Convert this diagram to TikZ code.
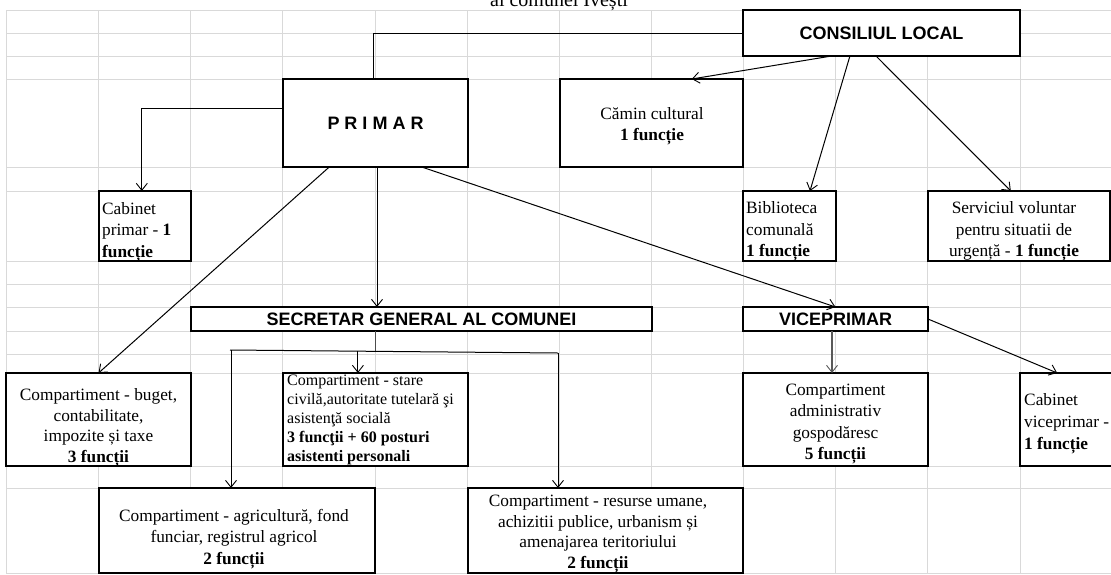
\documentclass[tikz,border=0pt]{standalone}
\usepackage{fontspec}
\setmainfont{Liberation Serif}
\newfontfamily\sansfam{Liberation Sans}
\usetikzlibrary{arrows.meta,calc}
\begin{document}
\begin{tikzpicture}[x=1pt,y=-1pt,
  gridline/.style={draw=black!15, line width=1pt},
  box/.style={draw, line width=1.9pt, fill=white, inner sep=0pt, outer sep=0pt},
  head/.style={font=\fontsize{18}{20}\selectfont\sansfam\bfseries},
  txt/.style={inner sep=0pt, font=\fontsize{17.3}{21.5}\selectfont},
  conn/.style={line width=1pt, -{Straight Barb[length=7pt,width=11pt,line width=0.9pt]}},
  plain/.style={line width=1pt},
  grayconn/.style={line width=1.6pt, draw=black!65, -{Straight Barb[length=7pt,width=11pt,line width=0.9pt]}},
]
\fill[white] (0,0) rectangle (1111,574);
\useasboundingbox (0,0) rectangle (1111,574);
% spreadsheet grid
\foreach \i in {0,...,11} \draw[gridline] ({6.4+92.15*\i},10) -- ({6.4+92.15*\i},574);
\foreach \yy in {10,33,56,79,167,191,261,284,307,331,354,373,466,488,573} \draw[gridline] (6.4,\yy) -- (1111,\yy);

% title (cut off at the top edge, as in the reference)
\node[inner sep=0pt, anchor=base, font=\fontsize{20}{24}\selectfont] (title) at (559,6.5) {al comunei Ivești};

% boxes
\node[box, head, minimum width=277pt, minimum height=46pt] (consiliul) at (881.5,33) {CONSILIUL LOCAL};
\node[box, head, minimum width=185pt, minimum height=88pt] (primar) at (375.5,123) {P R I M A R};
\node[box, minimum width=183pt, minimum height=88pt] (camin) at (651.5,123) {};
\node[box, minimum width=92.4pt, minimum height=70pt] (cabprimar) at (144.8,226) {};
\node[box, minimum width=93pt, minimum height=70pt] (biblioteca) at (789.5,226) {};
\node[box, minimum width=182pt, minimum height=70pt] (serviciul) at (1019,226) {};
\node[box, head, minimum width=461pt, minimum height=24pt] (secretar) at (421.5,319) {SECRETAR GENERAL AL COMUNEI};
\node[box, head, minimum width=185pt, minimum height=24pt] (viceprimar) at (835.5,319) {VICEPRIMAR};
\node[box, minimum width=185pt, minimum height=93pt] (buget) at (98.5,419.5) {};
\node[box, minimum width=185pt, minimum height=93pt] (stare) at (375.5,419.5) {};
\node[box, minimum width=185pt, minimum height=93pt] (admin) at (835.5,419.5) {};
\node[box, minimum width=120pt, minimum height=93pt] (cabvice) at (1080,419.5) {};
\node[box, minimum width=276.4pt, minimum height=85pt] (agricultura) at (236.8,530.5) {};
\node[box, minimum width=275pt, minimum height=85pt] (resurse) at (605.5,530.5) {};

% texts
\node[txt, align=center] (camin-t) at (652,125.5) {\strut Cămin cultural\\\strut\textbf{1 funcție}};
\node[txt, align=left, anchor=west] (cabprimar-t) at (102,231.2) {\strut Cabinet\\\strut primar - \textbf{1}\\\strut\textbf{funcție}};
\node[txt, align=left, anchor=west] (biblioteca-t) at (746,230.7) {\strut Biblioteca\\\strut comunală\\\strut\textbf{1 funcție}};
\node[txt, align=center] (serviciul-t) at (1014,230.7) {\strut Serviciul voluntar\\\strut pentru situatii de\\\strut urgență - \textbf{1 funcție}};
\node[txt, align=center, font=\fontsize{17.3}{20.5}\selectfont] (buget-t) at (98.5,427.6) {\strut Compartiment - buget,\\\strut contabilitate,\\\strut impozite și taxe\\\strut\textbf{3 funcții}};
\node[txt, align=left, anchor=west, font=\fontsize{16}{19}\selectfont] (stare-t) at (287,419.2) {\strut Compartiment - stare\\\strut civilă,autoritate tutelară şi\\\strut asistenţă socială\\\strut\textbf{3 funcţii + 60 posturi}\\\strut\textbf{asistenti personali}};
\node[txt, align=center] (admin-t) at (835.5,423) {\strut Compartiment\\\strut administrativ\\\strut gospodăresc\\\strut\textbf{5 funcții}};
\node[txt, align=left, anchor=west, font=\fontsize{17.3}{22}\selectfont] (cabvice-t) at (1024,422.6) {\strut Cabinet\\\strut viceprimar -\\\strut\textbf{1 funcție}};
\node[txt, align=center] (agricultura-t) at (234,538.2) {\strut Compartiment - agricultură, fond\\\strut funciar, registrul agricol\\\strut\textbf{2 funcții}};
\node[txt, align=center, font=\fontsize{17.3}{20.5}\selectfont] (resurse-t) at (598,533.6) {\strut Compartiment - resurse umane,\\\strut achizitii publice, urbanism și\\\strut amenajarea teritoriului\\\strut\textbf{2 funcții}};

% connectors
\draw[plain] (consiliul.west) -| ([xshift=-2.5pt]primar.north);
\draw[conn] ($(primar.north west)!0.34!(primar.south west)$) -| ([xshift=-3pt]cabprimar.north);
\draw[conn] ($(primar.south west)!0.25!(primar.south east)$) -- (buget.north);
\draw[conn] ([xshift=1.5pt]primar.south) -- ([xshift=1.5pt]primar.south |- secretar.north);
\draw[conn] ($(primar.south west)!0.75!(primar.south east)$) -- (viceprimar.north);
\draw[conn] ($(consiliul.south west)!0.32!(consiliul.south east)$) -- ($(camin.north west)!0.72!(camin.north east)$);
\draw[conn] ($(consiliul.south west)!0.386!(consiliul.south east)$) -- ($(biblioteca.north west)!0.72!(biblioteca.north east)$);
\draw[conn] ($(consiliul.south west)!0.48!(consiliul.south east)$) -- ($(serviciul.north west)!0.455!(serviciul.north east)$);
\draw[conn] (viceprimar.east) -- ($(cabvice.north west)!0.31!(cabvice.north east)$);
\draw[grayconn] ([xshift=-3.5pt]viceprimar.south) -- ([xshift=-3.5pt]viceprimar.south |- admin.north);
% secretar distribution
\coordinate (hl) at (230,350);
\coordinate (hr) at (558,353);
\coordinate (hm) at ($(hl)!0.39!(hr)$);
\draw[line width=1.4pt, draw=black!70] ($(secretar.south west)!0.4!(secretar.south east)$) -- ++(0,20.5);
\draw[plain] (hl) -- (hr);
\draw[conn] ([xshift=1pt]hl) -- ([xshift=1pt]hl |- agricultura.north);
\draw[conn] (hr) -- (hr |- resurse.north);
\draw[conn] (hm) -- (hm |- stare.north);
\end{tikzpicture}
\end{document}
